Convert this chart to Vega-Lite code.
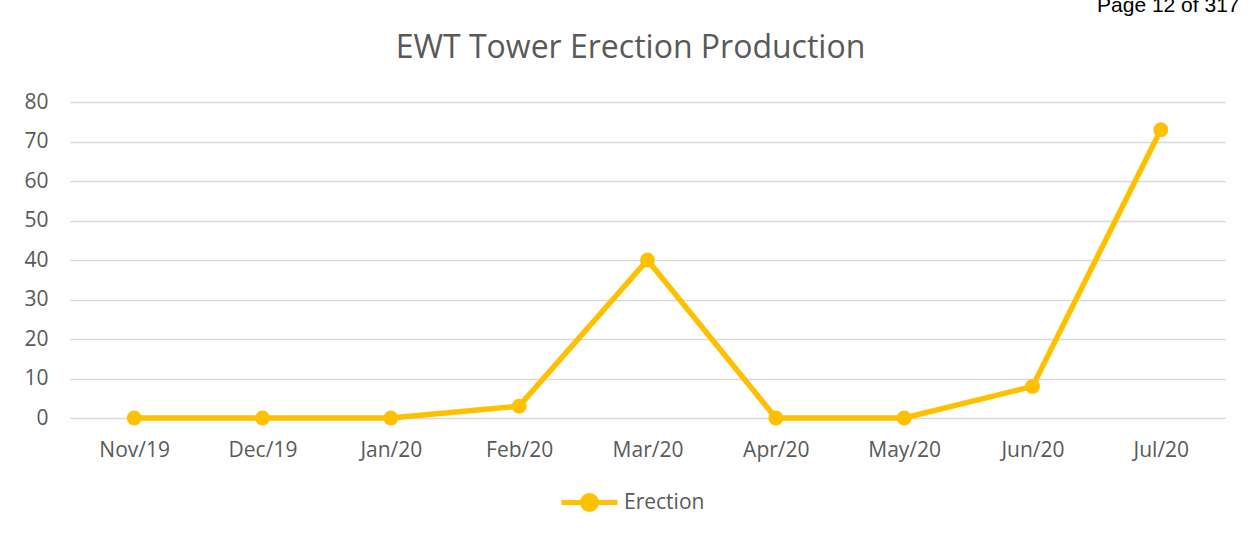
{
  "$schema": "https://vega.github.io/schema/vega-lite/v6.json",
  "width": 1155,
  "height": 316,
  "autosize": {"type": "none"},
  "padding": {"left": 70, "top": 102, "right": 26, "bottom": 121},
  "background": "white",
  "title": {
    "text": "EWT Tower Erection Production",
    "font": "Open Sans",
    "fontSize": 32,
    "fontWeight": "normal",
    "color": "#595959",
    "anchor": "middle",
    "frame": "group",
    "dx": -17,
    "baseline": "alphabetic",
    "offset": -96
  },
  "data": {
    "values": [
      {"month": "Nov/19", "value": 0, "series": "Erection"},
      {"month": "Dec/19", "value": 0, "series": "Erection"},
      {"month": "Jan/20", "value": 0, "series": "Erection"},
      {"month": "Feb/20", "value": 3, "series": "Erection"},
      {"month": "Mar/20", "value": 40, "series": "Erection"},
      {"month": "Apr/20", "value": 0, "series": "Erection"},
      {"month": "May/20", "value": 0, "series": "Erection"},
      {"month": "Jun/20", "value": 8, "series": "Erection"},
      {"month": "Jul/20", "value": 73, "series": "Erection"}
    ]
  },
  "mark": {
    "type": "line",
    "strokeWidth": 5.5,
    "point": {"filled": true, "size": 220, "opacity": 1}
  },
  "encoding": {
    "x": {
      "field": "month",
      "type": "ordinal",
      "sort": null,
      "scale": {"type": "point", "padding": 0.5},
      "axis": {
        "title": null,
        "labelAngle": 0,
        "labelFont": "Open Sans",
        "labelFontSize": 21,
        "labelColor": "#595959",
        "labelPadding": 21,
        "ticks": false,
        "domain": false,
        "grid": false
      }
    },
    "y": {
      "field": "value",
      "type": "quantitative",
      "scale": {"domain": [0, 80], "nice": false},
      "axis": {
        "values": [0, 10, 20, 30, 40, 50, 60, 70, 80],
        "labelFont": "Open Sans",
        "labelFontSize": 21,
        "labelColor": "#595959",
        "labelPadding": 22,
        "ticks": false,
        "domain": false,
        "grid": true,
        "gridColor": "#D9D9D9",
        "gridWidth": 1.5,
        "title": "Page 12 of 317",
        "titleAngle": 0,
        "titleX": 1169,
        "titleY": -91,
        "titleAlign": "right",
        "titleBaseline": "alphabetic",
        "titleFont": "Liberation Sans",
        "titleFontSize": 21,
        "titleFontWeight": "normal",
        "titleColor": "#000000"
      }
    },
    "color": {
      "field": "series",
      "type": "nominal",
      "scale": {"range": ["#FFC000"]},
      "legend": {
        "title": null,
        "orient": "none",
        "legendX": 489,
        "legendY": 370,
        "symbolType": "M-1,0L1,0M0.25,0A0.25,0.25,0,1,1,-0.25,0A0.25,0.25,0,1,1,0.25,0",
        "symbolSize": 3136,
        "symbolStrokeWidth": 5,
        "symbolFillColor": "#FFC000",
        "symbolStrokeColor": "#FFC000",
        "labelFont": "Open Sans",
        "labelFontSize": 21,
        "labelColor": "#595959",
        "labelOffset": 4
      }
    }
  },
  "config": {"view": {"stroke": null}}
}
